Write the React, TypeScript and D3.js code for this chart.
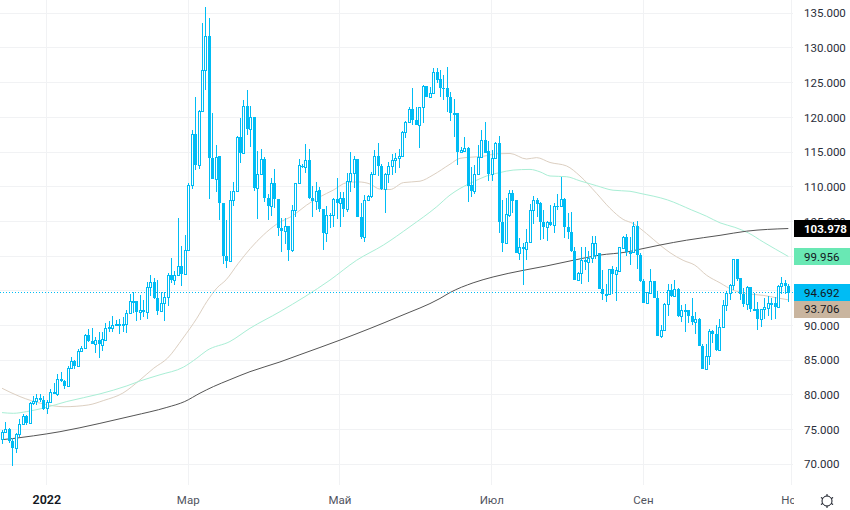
import * as d3 from "d3";

const opens = [
  73.6,74.7,75.05,73.3,72.3,74.4,75.8,77.0,75.9,78.8,
  79.1,79.5,79.2,78.1,79.0,80.4,80.15,82.3,82.0,81.25,
  83.85,84.9,84.2,86.4,86.7,88.65,87.75,87.4,87.9,87.2,
  87.9,89.6,89.7,90.1,90.2,90.2,90.2,91.8,93.6,93.6,
  91.9,92.25,92.0,95.5,96.25,93.95,92.15,93.3,94.1,97.25,
  96.5,97.25,98.6,97.4,100.9,110.2,117.55,113.2,120.9,126.8,
  131.8,114.2,111.15,114.4,107.6,100.05,99.3,108.15,109.4,117.2,
  114.9,121.6,118.3,120,109.85,111.9,114.05,108.45,107.25,110.6,
  108.25,104,103.65,104.4,100.85,106.7,110.5,
  113.05,112.8,113.85,108.4,108.0,109.5,106.8,103.35,106,105.9,
  108.3,107.6,108.45,106.75,110.85,112.05,113.95,105.7,102.8,108.15,
  108.65,111.8,114.5,113,109.7,111.9,113.05,113.8,114.1,114.5,
  117.9,119.35,121.15,119.6,118.9,121.45,124.5,123,123.45,126.5,
  125.5,124.3,124.3,122.9,120.6,120.7,
  114.95,115.2,115.65,110.2,109.4,111.8,114.3,116.8,115.15,111.9,
  114.2,116.25,104.95,101.9,105.9,109.05,108.1,100.5,101.25,101.05,
  102.05,106.65,108.05,107.6,104.85,104.25,104.85,104.5,107.2,107.2,
  108.3,104.15,103.5,100.7,96.55,97.6,99.4,99.2,99.8,100.15,
  100.4,95.25,94.6,94.6,98.15,97.4,97.9,101.2,102.7,100.6,
  100.6,104.4,100.15,96.4,93.3,94.7,96.4,94,88.5,89.4,
  93.15,95.05,94.3,95.25,91.35,92.2,92.2,91.4,90.55,91,
  87.05,83.8,85.65,89.15,88.85,86.5,89.8,92.9,94.7,95.9,
  99.55,96.8,94.6,93.1,95.5,92.4,92.45,91,92.35,92.5,
  93.2,93.2,92.7,95.75,96.2,95.75,
];
const highs = [
  75.0,76.1,75.3,73.75,74.5,76.5,77.2,77.1,79.0,79.8,
  80.2,80.2,79.9,79.3,80.8,81.7,83.0,83.3,82.2,84.2,
  85.4,85.0,86.6,87.0,88.8,89.5,89.6,88.4,89.1,89.05,
  90.4,90.6,91.4,90.8,90.9,91.3,92.2,94.6,94.85,93.6,
  94.4,93.7,96.25,97.25,96.8,96.6,94.9,94.9,97.55,99.7,
  97.8,105.5,101.5,103.1,110.5,118.2,122.9,121.0,133.55,135.85,
  134.3,120.6,116,114.4,107.6,105.2,109.4,110.7,117.3,119.85,
  122.5,123.95,121.6,120,115.15,115.5,114.3,109,111.2,112.55,
  108.25,105.45,105.45,104.4,107.35,110.6,113.95,
  113.3,116.15,115.45,110.1,110.7,109.9,106.8,107.2,106.15,108.45,
  111.2,109.3,109.3,112,114.95,114.4,113.95,107.6,108.8,108.8,
  112.15,115.3,116.25,113.35,112,113.6,114.7,114.9,115.5,118.1,
  119.5,121.55,124.3,121.55,121.55,124.65,124.5,124.4,127.05,127.05,
  126.8,126.1,127.2,123.7,122.6,120.7,
  115.7,117.1,115.75,112.8,113.15,116,118.25,119.35,116.6,115.3,
  116.5,117.3,108.1,108.35,109.5,109.5,108.1,102.55,101.85,103.95,
  107.5,108.65,108.45,107.85,106.65,105,107.35,107.6,109,111.35,
  108.45,106.25,106.3,101.35,97.75,101.25,101.25,100.75,102.9,102.9,
  100.4,97.95,96.05,98.2,98.6,98.45,101.35,102.9,103.25,102.7,
  104.85,105.05,100.4,96.65,94.9,98.2,96.4,94.95,90.05,93.25,
  96.05,96.05,96.55,95.4,92.95,93.15,92.3,93.9,92,91.1,
  87.4,87.4,89.55,89.35,90.05,91,93.65,94.95,96.05,99.65,
  99.65,96.8,95.35,95.65,95.6,94.7,93.4,92.45,94,94.2,
  93.9,94.15,95.85,97,96.55,95.95,
];
const lows = [
  72.9,74.5,73.0,69.7,71.7,74.0,75.7,75.7,75.8,78.5,
  78.5,79.0,77.8,77.3,78.9,80.1,79.9,81.9,80.8,81.2,
  83.8,83.8,84.2,86.3,86.6,87.6,87.35,86.0,85.3,86.4,
  87.85,89.0,89.1,89.9,88.75,89.1,88.9,91.7,91.8,90.7,
  90.8,91.3,90.9,94.2,93.8,91.5,92.15,90.7,92.85,96.1,
  95.9,97.2,95.7,97.3,100.8,109.7,112.4,112.5,120.85,123.95,
  108.2,111.1,109.3,105.2,98.85,98.3,99.2,107.25,109.3,113.45,
  114.8,117.45,115.75,109.4,105.35,111.9,107.85,105.2,105.75,106.9,
  102.95,100.6,101.75,99.3,100.6,105.7,110.4,
  112.7,112.0,108.3,105.7,106.65,106.35,100.85,102.05,104,104.15,
  105.4,104.15,105.6,106.4,109.3,109.75,105.7,102.4,102.05,108.1,
  108.45,111.7,111.6,109.5,106.25,110.5,111.7,112,112.65,114.4,
  117,119.25,118.9,118.85,115.6,119.25,122.9,122.9,123.35,125,
  122.9,122.5,120.8,119.5,117.2,113.1,
  114.9,115,107.85,108.55,108.95,111.7,114.25,114.85,110.85,110.85,
  114.15,103.35,100.6,101.85,105.65,106.2,100.4,99.45,95.8,99.45,
  102,104.7,105.7,102.3,102.5,102.2,104.4,103.3,106.6,107.05,
  102.55,102.45,100.6,96.55,96.45,96.05,97.95,96.3,98.95,99.65,
  95.2,93.65,93.4,94.5,94.5,93.55,97.75,101.2,100.05,98.7,
  100.5,98.1,96.3,93.25,93.2,94.5,93.9,88.5,88.2,89.3,
  91.4,94.15,94.1,91.25,90.55,89.1,90.3,90.05,88.85,87.05,
  83.75,83.75,84.3,87.5,86.35,86.4,89.7,92.05,93.75,95.1,
  96.4,93.75,92.6,92.2,92,92.3,89.4,89.8,91,91.4,
  90.75,91,92.6,94.6,94.5,93.4,
];
const closes = [
  74.7,75.05,73.3,72.3,74.4,75.8,77.0,75.9,78.8,79.1,
  79.5,79.2,78.0,79.0,80.4,80.15,82.3,82.0,81.25,83.85,
  84.9,84.1,86.4,86.7,88.65,87.75,87.4,87.9,87.35,88.05,
  89.6,89.85,90.1,90.2,90.2,90.2,91.8,93.6,93.6,91.9,
  92.25,92.0,95.5,96.25,93.95,92.15,93.3,94.1,97.25,96.5,
  97.3,98.6,97.4,100.9,110.2,117.55,113.2,120.9,126.8,131.8,
  114.2,111.15,114.3,107.6,100.05,99.3,108.15,109.4,117.2,114.9,
  121.6,118.3,120,109.85,111.9,114.05,108.45,107.25,110.6,108.25,
  104,103.65,104.4,100.85,106.7,110.5,113.1,
  112.8,113.85,108.4,108.0,109.4,106.8,103.35,106,105.9,108.3,
  107.6,108.45,106.75,110.85,112.05,113.95,105.7,102.8,108.15,108.65,
  111.8,114.5,113,109.7,111.9,113.05,113.8,114.1,114.5,117.9,
  119.35,121.15,119.6,118.9,121.45,124.5,123,123.45,126.5,125.4,
  124.2,124.15,122.9,120.6,120.7,114.95,
  115.3,115.65,110.1,109.4,111.8,114.3,116.8,114.9,111.9,114.2,
  116.25,104.95,101.9,106.05,109.05,108,100.5,101.25,101.05,102.05,
  106.65,108.05,107.5,104.85,104.25,104.85,104.5,107.2,107.15,108.3,
  104.15,103.5,100.7,96.55,97.6,99.4,99.2,99.8,101.95,101.95,
  95.25,94.6,94.6,98.2,97.4,98,101.25,102.7,100.6,100.6,
  104.4,100.15,96.4,93.3,94.85,96.4,94,88.5,89.4,93.15,
  95.05,94.3,95.25,91.35,92.2,92.2,91.4,90.5,91,87.05,
  83.8,85.65,89.15,88.75,86.5,89.8,92.9,94.7,95.9,99.55,
  96.7,94.6,93.1,95.5,92.4,92.45,91,92.35,92.6,93.2,
  93.2,92.7,95.75,96.2,95.7,94.692,
];

const maBeige: [number, number][] = [
  [0,80.96],[5.2,79.76],[12,78.7],[18,78.3],[25,78.55],[29.5,79.2],[35,80.25],[40,82.15],[44,83.85],
  [48,85.3],[52.5,88.2],[56.5,91.05],[59.4,93.45],[62.3,95.4],[65,96.6],[68.5,98.95],[72,101.1],
  [75.8,103.05],[79.6,104.6],[84.5,105.9],[88.3,107.35],[92.2,108.55],[96,109.5],[100,110.6],
  [103.3,110.7],[106.7,110.4],[109.6,109.65],[112.5,109.6],[116.4,110.6],[121.2,110.8],[125,111.7],
  [129.9,113.25],[132.8,114.1],[135.7,114.25],[139.6,114.4],[143.4,114.75],[147.3,114.8],[152.1,114],
  [155,114.2],[158.9,113.5],[163.7,113],[167.6,111.55],[172.4,109.05],[176.3,106.9],[180.1,105.3],
  [183,104.7],[186.9,103.25],[190.8,101.6],[193.7,100.5],[197.5,99.4],[200.9,98.7],[204.3,97.25],
  [208.2,96.15],[212,95.1],[215.9,94.6],[220.7,94.35],[225,93.96],[228,93.706],
];
const maGreen: [number, number][] = [
  [0,77.45],[3.3,77.35],[7.2,77.6],[12,78.1],[18.8,79.05],[28.4,80.15],[36.2,81.3],[40,82],[45.8,82.9],
  [52.6,84],[56.5,85.3],[59.4,86.4],[66.1,87.7],[71.9,89.6],[80.6,92],[95.1,96.55],[102.8,99.4],
  [110.6,101.6],[118.3,104.25],[126,107.1],[129.9,108.8],[132.8,109.75],[136.6,110.7],[140.5,111.55],
  [144.4,112.05],[148.2,112.4],[153.1,112.5],[156,112.15],[158.9,111.55],[163.7,111.45],[167.6,110.85],
  [172.4,110.15],[177.2,109.5],[182.1,109.35],[185,109.05],[193,108.1],[200,106.65],[204.3,105.75],
  [208.2,104.8],[212.5,104.15],[216.4,103.35],[220.7,102.05],[228,99.956],
];
const maDark: [number, number][] = [
  [0,73.55],[3.8,73.75],[9.1,74.1],[16.8,74.7],[28.4,75.9],[38,77],[47.8,78.2],[53,79.05],[57.4,80.25],
  [61.3,81.2],[66.1,82.2],[71.9,83.35],[80.6,84.75],[86.4,85.8],[98,87.9],[115.4,91.35],[127,93.9],
  [129.9,94.75],[136.6,96.15],[142.4,97],[151.1,97.95],[158,98.6],[165.6,99.4],[173.3,100.15],
  [181.2,100.6],[185,101],[190.8,101.6],[198.5,102.3],[208.2,103],[215.9,103.6],[228,103.978],
];

const yTicks = [70, 75, 80, 85, 90, 95, 100, 105, 110, 115, 120, 125, 130, 135];
// 95 and 100 sit fully behind the price tags in the picture
const yLabelTicks = [70, 75, 80, 85, 90, 105, 110, 115, 120, 125, 130, 135];
const xTickBars = [13, 54, 98, 142, 186, 229];
const xTickLabels = ["2022", "Мар", "Май", "Июл", "Сен", "Ноя"];

const lastPrice = 94.692;
const priceLabels = [
  { value: 103.978, bg: "#000000", fg: "#ffffff", weight: 700 },
  { value: 99.956, bg: "#69e8b4", fg: "#131722", weight: 400 },
  { value: 93.706, bg: "#c9b59f", fg: "#131722", weight: 400, offset: 9.5 },
  { value: 94.692, bg: "#00bcf4", fg: "#131722", weight: 400 },
];

const candleColor = "#00bcf4";
const font = "Roboto, sans-serif";

export default function App() {
  const x = d3.scaleLinear().domain([0, 228]).range([2, 788.3]);
  const y = d3.scaleLinear().domain([70, 135]).range([464.3, 13.3]);
  const fmt = d3.format(".3f");
  const px = (v: number) => Math.floor(v) + 0.5;

  const ma = d3
    .line<[number, number]>()
    .x((d) => x(d[0]))
    .y((d) => y(d[1]))
    .curve(d3.curveMonotoneX);

  return (
    <svg
      width={850}
      height={510}
      style={{ position: "absolute", left: 0, top: 0, background: "#fff" }}
      fontFamily={font}
    >
      <defs>
        <clipPath id="xaxis-clip">
          <rect x={0} y={485} width={794} height={25} />
        </clipPath>
      </defs>

      {/* grid */}
      <g stroke="#f1f2f4" strokeWidth={1} shapeRendering="crispEdges">
        {yTicks.map((t) => (
          <line key={t} x1={0} x2={793} y1={px(y(t))} y2={px(y(t))} />
        ))}
        {xTickBars.map((b) => (
          <line key={b} x1={px(x(b))} x2={px(x(b))} y1={0} y2={485} />
        ))}
      </g>

      {/* moving averages */}
      <g fill="none" strokeWidth={1}>
        <path d={ma(maBeige) ?? ""} stroke="#dccfc1" />
        <path d={ma(maGreen) ?? ""} stroke="#a9eed5" />
        <path d={ma(maDark) ?? ""} stroke="#555555" />
      </g>

      {/* last price line */}
      <line
        x1={0}
        x2={793}
        y1={px(y(lastPrice))}
        y2={px(y(lastPrice))}
        stroke={candleColor}
        strokeDasharray="1 2"
        shapeRendering="crispEdges"
      />

      {/* candles */}
      <g shapeRendering="crispEdges">
        {closes.map((c, i) => {
          const cx = Math.round(x(i));
          const o = opens[i];
          const up = c >= o;
          const top = Math.round(y(Math.max(o, c)));
          const bot = Math.round(y(Math.min(o, c)));
          return (
            <g key={i}>
              <rect
                x={cx}
                width={1}
                y={Math.round(y(highs[i]))}
                height={Math.max(1, Math.round(y(lows[i])) - Math.round(y(highs[i])))}
                fill={candleColor}
              />
              {up ? (
                <rect
                  x={cx - 0.5}
                  y={top + 0.5}
                  width={2}
                  height={Math.max(1, bot - top)}
                  fill="#fff"
                  stroke={candleColor}
                />
              ) : (
                <rect x={cx - 1} y={top} width={3} height={Math.max(1, bot - top)} fill={candleColor} />
              )}
            </g>
          );
        })}
      </g>

      {/* y axis labels */}
      <g fontSize={11.5} fill="#2a2e39">
        {yLabelTicks.map((t) => (
          <text key={t} x={804} y={y(t)} dy="0.36em">
            {fmt(t)}
          </text>
        ))}
      </g>

      {/* price tags */}
      <g fontSize={11.5}>
        {priceLabels.map((l) => {
          const cy = y(l.value) + (l.offset ?? 0);
          return (
            <g key={l.value}>
              <rect x={794} y={Math.round(cy - 8.5)} width={56} height={17} fill={l.bg} />
              <text x={804} y={cy} dy="0.36em" fill={l.fg} fontWeight={l.weight}>
                {fmt(l.value)}
              </text>
            </g>
          );
        })}
      </g>

      {/* x axis labels */}
      <g clipPath="url(#xaxis-clip)" fontSize={11.5} textAnchor="middle">
        {xTickBars.map((b, i) => (
          <text
            key={b}
            x={x(b)}
            y={503.5}
            fill={i === 0 ? "#131722" : "#50535e"}
            fontWeight={i === 0 ? 600 : 400}
            fontSize={i === 0 ? 12.5 : 11.5}
          >
            {xTickLabels[i]}
          </text>
        ))}
      </g>

      {/* settings icon */}
      <g transform="translate(827,501)" fill="none" stroke="#131722" strokeWidth={1}>
        <circle r={5} />
        {d3.range(6).map((k) => (
          <line key={k} x1={0} x2={0} y1={-5} y2={-7} transform={`rotate(${k * 60})`} />
        ))}
      </g>
    </svg>
  );
}
